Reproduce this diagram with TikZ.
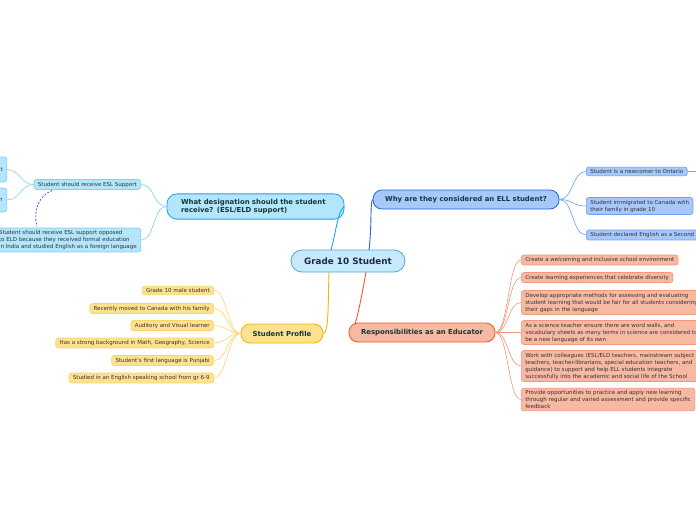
\documentclass[tikz,border=0pt]{standalone}
\usepackage{fontspec}
\setmainfont{DejaVu Sans}
\begin{document}
\begin{tikzpicture}[x=1pt,y=-1pt]
\definecolor{txt}{HTML}{333333}
\definecolor{ttl}{HTML}{143838}
\definecolor{ctxt}{HTML}{1B2A4A}
\definecolor{cfill}{HTML}{C6EAFB}\definecolor{cline}{HTML}{4CA6E0}
\definecolor{efill}{HTML}{B3E5FC}\definecolor{eline}{HTML}{1FA3E8}\definecolor{ech}{HTML}{7FD0F8}
\definecolor{wfill}{HTML}{A6C8FA}\definecolor{wline}{HTML}{2563D9}\definecolor{wch}{HTML}{6E9FF0}
\definecolor{pfill}{HTML}{FDE190}\definecolor{pline}{HTML}{F7B500}\definecolor{pch}{HTML}{FCD46E}
\definecolor{rfill}{HTML}{F8B9A3}\definecolor{rline}{HTML}{F0572A}\definecolor{rch}{HTML}{F4967B}
\definecolor{dashc}{HTML}{4463E6}
\tikzset{
 main/.style={rounded corners=9pt, line width=0.8pt, inner sep=0pt, font=\fontsize{6.9}{8.6}\selectfont\bfseries, text=ttl, align=center},
 child/.style={rounded corners=2.5pt, line width=0.6pt, inner xsep=4pt, inner ysep=2.3pt, font=\fontsize{5.5}{7}\selectfont, text=txt, align=left},
 echild/.style={child, fill=efill, draw=ech},
 wchild/.style={child, fill=wfill, draw=wch},
 pchild/.style={child, fill=pfill, draw=pch, anchor=east},
 rchild/.style={child, fill=rfill, draw=rch, anchor=west},
 econ/.style={draw=ech, line width=0.6pt},
 wcon/.style={draw=wch, line width=0.6pt},
 pcon/.style={draw=pch, line width=0.6pt},
 rcon/.style={draw=rch, line width=0.6pt},
}
\useasboundingbox[fill=white] (0,0) rectangle (696,520);

% central
\node[main, fill=cfill, draw=cline, minimum width=114pt, minimum height=22pt, rounded corners=11pt, font=\fontsize{8.8}{10}\selectfont\bfseries, text=ctxt] (c) at (348,261) {Grade 10 Student};

% main nodes
\node[main, fill=efill, draw=eline, text width=149pt, inner xsep=14pt, inner ysep=5pt, align=left, rounded corners=10pt] (esl) at (255.5,206.5) {What designation should the student\\receive? (ESL/ELD support)};
\node[main, fill=wfill, draw=wline, minimum width=186pt, minimum height=19pt] (why) at (466,199.5) {Why are they considered an ELL student?};
\node[main, fill=pfill, draw=pline, minimum width=82pt, minimum height=19pt] (prof) at (282,333.5) {Student Profile};
\node[main, fill=rfill, draw=rline, minimum width=146pt, minimum height=19pt] (resp) at (422,332.5) {Responsibilities as an Educator};

% main connectors
\draw[draw=eline, line width=0.9pt] (331,250) .. controls (336,232) and (338,210) .. (esl.east);
\draw[draw=wline, line width=0.9pt] (369,250) .. controls (372,225) and (370,203) .. (why.west);
\draw[draw=pline, line width=0.9pt] (329,272) .. controls (328,300) and (329,333.5) .. (prof.east);
\draw[draw=rline, line width=0.9pt] (366,272) .. controls (362,295) and (358,315) .. (355,324);

% ESL children
\node[echild, anchor=east] (esup) at (141,184.5) {Student should receive ESL Support};
\node[echild, anchor=east] (eopp) at (141,240) {Student should receive ESL support opposed\\to ELD because they received formal education\\in India and studied English as a foreign language};
\node[echild, anchor=east, text width=50pt, align=right, minimum height=25pt] (ea) at (7,169.5) {t};
\node[echild, anchor=east, text width=50pt, align=right, minimum height=24pt] (eb) at (7,200) {n};
\draw[econ] (esl.west) .. controls +(-14,0) and +(14,0) .. (esup.east);
\draw[econ] (esl.west) .. controls +(-14,0) and +(14,0) .. (eopp.east);
\draw[econ] (esup.west) .. controls +(-13,0) and +(13,0) .. (ea.east);
\draw[econ] (esup.west) .. controls +(-13,0) and +(13,0) .. (eb.east);
\draw[draw=dashc, line width=0.8pt, dash pattern=on 2pt off 1.5pt] (52,190.5) .. controls (38,196) and (33,212) .. (37,226.5);

% Why children
\node[wchild, anchor=west] (w1) at (586,171.5) {Student is a newcomer to Ontario};
\node[wchild, anchor=west] (w2) at (586,206) {Student immigrated to Canada with\\their family in grade 10};
\node[wchild, anchor=west] (w3) at (586,235) {Student declared English as a Second Language};
\coordinate (w1x) at (720,171.5);
\draw[wcon] (why.east) .. controls +(14,0) and +(-14,0) .. (w1.west);
\draw[wcon] (why.east) .. controls +(14,0) and +(-14,0) .. (w2.west);
\draw[wcon] (why.east) .. controls +(14,0) and +(-14,0) .. (w3.west);
\draw[wcon] (w1.east) -- (w1x);

% Profile children
\node[pchild] (p1) at (214,290.5) {Grade 10 male student};
\node[pchild] (p2) at (214,308.5) {Recently moved to Canada with his family};
\node[pchild] (p3) at (214,325.5) {Auditory and Visual learner};
\node[pchild] (p4) at (214,343) {Has a strong background in Math, Geography, Science};
\node[pchild] (p5) at (214,360.5) {Student's first language is Punjabi};
\node[pchild] (p6) at (214,378) {Studied in an English speaking school from gr 6-9};
\foreach \i in {1,...,6}{
 \draw[pcon] (prof.west) .. controls +(-13,0) and +(13,0) .. (p\i.east);
}

% Responsibility children
\node[rchild] (r1) at (521,260) {Create a welcoming and inclusive school environment};
\node[rchild] (r2) at (521,277.5) {Create learning experiences that celebrate diversity};
\node[rchild] (r3) at (521,302.5) {Develop appropriate methods for assessing and evaluating\\student learning that would be fair for all students considering\\their gaps in the language};
\node[rchild] (r4) at (521,332.5) {As a science teacher ensure there are word walls, and\\vocabulary sheets as many terms in science are considered to\\be a new language of its own};
\node[rchild] (r5) at (521,366) {Work with colleagues (ESL/ELD teachers, mainstream subject\\teachers, teacher-librarians, special education teachers, and\\guidance) to support and help ELL students integrate\\successfully into the academic and social life of the School};
\node[rchild] (r6) at (521,399.5) {Provide opportunities to practice and apply new learning\\through regular and varied assessment and provide specific\\feedback};
\foreach \i in {1,...,6}{
 \draw[rcon] (resp.east) .. controls +(13,0) and +(-13,0) .. (r\i.west);
}
\end{tikzpicture}
\end{document}
